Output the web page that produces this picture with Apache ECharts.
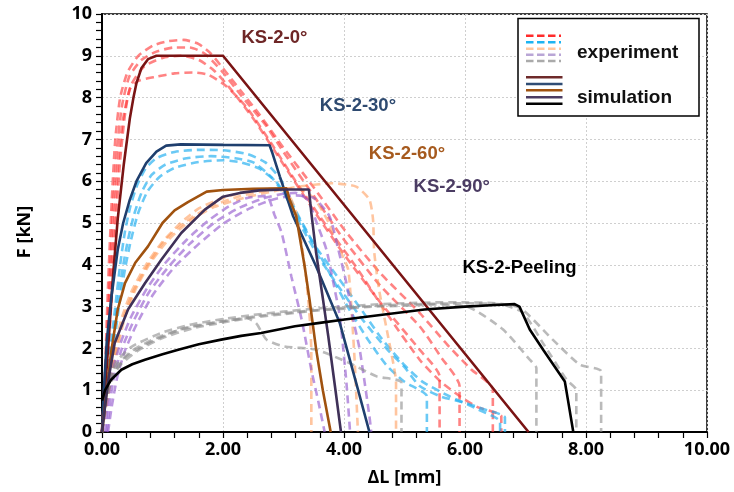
<!DOCTYPE html>
<html>
<head>
<meta charset="utf-8">
<script src="https://cdn.jsdelivr.net/npm/echarts@6/dist/echarts.min.js"></script>
<style>
  html, body { margin: 0; padding: 0; background: #fff; }
  #chart { width: 734px; height: 492px; }
</style>
</head>
<body>
<div id="chart"></div>
<script>
// Force F [kN] versus elongation ΔL [mm] for the KS-2 specimens.
// Axis ranges
const xRange = [0, 10];
const yRange = [0, 10];

// ---- KS-2-0° ----
const sim0 = [[0,0],[0.05,1.0],[0.1,2.0],[0.18,3.7],[0.26,5.1],[0.36,6.4],[0.46,7.5],[0.52,8.0],[0.57,8.35],[0.65,8.7],[0.76,8.92],[0.9,9.0],[2.0,9.0],[7.05,0]];
const exp0a = [[0,0],[0.05,1.5],[0.1,3.5],[0.16,5.5],[0.22,7.0],[0.3,8.0],[0.42,8.6],[0.6,9.0],[0.85,9.25],[1.1,9.35],[1.35,9.38],[1.6,9.28],[1.8,9.05],[2.0,8.7],[2.3,8.15],[2.6,7.6],[3.0,6.8],[3.5,5.85],[4.0,4.85],[4.6,3.8],[5.25,2.85],[5.7,2.1],[6.1,1.5],[6.46,1.02],[6.46,0]];
const exp0b = [[0,0],[0.06,1.5],[0.12,3.4],[0.18,5.3],[0.25,6.8],[0.33,7.8],[0.45,8.5],[0.65,8.9],[0.9,9.1],[1.2,9.2],[1.45,9.2],[1.7,9.05],[2.0,8.6],[2.3,8.05],[2.7,7.35],[3.0,6.7],[3.5,5.65],[4.0,4.6],[4.6,3.5],[5.25,2.53],[5.6,1.8],[5.91,1.1],[5.91,0]];
const exp0c = [[0,0],[0.07,1.4],[0.13,3.2],[0.2,5.0],[0.27,6.5],[0.35,7.5],[0.48,8.3],[0.7,8.75],[1.0,8.95],[1.3,9.0],[1.6,8.9],[1.85,8.65],[2.1,8.25],[2.5,7.5],[3.0,6.4],[3.5,5.3],[4.0,4.25],[4.6,3.1],[5.25,1.97],[5.58,1.33],[5.58,0]];
const exp0d = [[0,0],[0.08,1.3],[0.15,3.0],[0.22,4.8],[0.3,6.5],[0.38,7.6],[0.46,8.2],[0.6,8.4],[0.9,8.5],[1.2,8.58],[1.5,8.6],[1.75,8.55],[2.05,8.28],[2.4,7.75],[2.8,6.9],[3.2,6.0],[3.7,4.95],[4.2,3.95],[4.7,2.85],[5.25,1.73],[5.6,1.2],[5.91,0.86],[6.2,0.6],[6.6,0.38],[6.6,0]];

// ---- KS-2-30° ----
const sim30 = [[0,0],[0.03,1.0],[0.08,2.2],[0.15,3.17],[0.26,4.36],[0.35,5.0],[0.46,5.56],[0.57,6.0],[0.73,6.43],[0.9,6.71],[1.06,6.85],[1.3,6.88],[2.0,6.87],[2.77,6.86],[2.81,6.7],[2.94,6.11],[3.16,5.16],[3.54,3.96],[3.93,2.61],[4.2,1.18],[4.42,0]];
const exp30a = [[0,0],[0.07,1.0],[0.14,2.0],[0.22,3.0],[0.3,4.0],[0.38,4.8],[0.47,5.4],[0.58,5.9],[0.72,6.3],[0.9,6.55],[1.2,6.7],[1.6,6.75],[2.0,6.74],[2.4,6.65],[2.7,6.45],[2.95,6.05],[3.2,5.3],[3.5,4.5],[3.8,3.7],[4.1,2.9],[4.4,2.2],[4.7,1.6],[5.0,1.2],[5.37,0.85],[5.37,0]];
const exp30b = [[0,0],[0.08,1.0],[0.16,2.0],[0.25,3.0],[0.34,3.9],[0.43,4.6],[0.53,5.2],[0.66,5.75],[0.82,6.15],[1.05,6.4],[1.4,6.55],[1.8,6.6],[2.2,6.55],[2.5,6.45],[2.8,6.1],[3.05,5.6],[3.3,4.9],[3.6,4.15],[3.9,3.5],[4.3,2.7],[4.7,2.0],[5.0,1.55],[5.25,1.1],[5.6,0.85],[6.0,0.7],[6.3,0.55],[6.66,0.35],[6.66,0]];
const exp30c = [[0,0],[0.1,1.0],[0.19,2.0],[0.28,3.0],[0.38,3.9],[0.48,4.6],[0.6,5.25],[0.75,5.75],[0.95,6.1],[1.2,6.32],[1.6,6.46],[2.0,6.5],[2.3,6.45],[2.6,6.3],[2.9,5.95],[3.2,5.25],[3.5,4.5],[3.9,3.7],[4.3,2.9],[4.64,2.2],[5.0,1.6],[5.3,1.2],[5.75,0.85],[6.2,0.55],[6.58,0.25],[6.58,0]];

// ---- KS-2-60° ----
const sim60 = [[0,0],[0.08,1.0],[0.15,1.9],[0.26,2.93],[0.38,3.56],[0.55,4.05],[0.76,4.44],[1.0,5.0],[1.2,5.3],[1.42,5.5],[1.73,5.75],[2.0,5.79],[2.5,5.82],[3.05,5.83],[3.1,5.56],[3.21,5.16],[3.35,3.96],[3.43,3.17],[3.54,1.97],[3.65,1.0],[3.78,0]];
const exp60a = [[0,0],[0.1,1.0],[0.2,1.9],[0.32,2.7],[0.5,3.4],[0.75,4.05],[1.0,4.55],[1.3,5.0],[1.6,5.35],[2.0,5.6],[2.4,5.75],[2.8,5.82],[3.05,5.75],[3.2,5.3],[3.3,4.5],[3.38,3.6],[3.44,2.6],[3.46,1.9],[3.46,0]];
const exp60b = [[0,0],[0.12,1.0],[0.24,1.9],[0.37,2.7],[0.55,3.4],[0.8,4.05],[1.1,4.6],[1.45,5.05],[1.85,5.38],[2.4,5.62],[2.9,5.78],[3.3,5.88],[3.8,5.95],[4.2,5.87],[4.42,5.56],[4.48,5.08],[4.5,4.3],[4.58,3.4],[4.7,2.5],[4.82,1.6],[4.86,1.2],[4.86,0]];
const exp60c = [[0,0],[0.11,1.0],[0.22,1.9],[0.35,2.7],[0.53,3.4],[0.78,4.05],[1.05,4.6],[1.4,5.05],[1.8,5.4],[2.3,5.65],[2.8,5.8],[3.2,5.83],[3.5,5.6],[3.75,5.0],[3.95,4.3],[4.07,3.88],[4.13,2.8],[4.18,1.6],[4.23,0]];

// ---- KS-2-90° ----
const sim90 = [[0,0],[0.05,0.6],[0.1,1.2],[0.21,2.13],[0.43,2.93],[0.71,3.56],[0.98,4.12],[1.31,4.76],[1.7,5.32],[2.0,5.63],[2.28,5.72],[2.6,5.78],[3.0,5.8],[3.42,5.8],[3.46,5.24],[3.54,4.28],[3.65,3.2],[3.74,2.29],[3.85,1.1],[3.95,0]];
const exp90a = [[0.05,0],[0.1,0.8],[0.18,1.5],[0.3,2.1],[0.48,2.75],[0.75,3.45],[1.05,4.05],[1.4,4.6],[1.75,5.05],[2.1,5.4],[2.4,5.6],[2.72,5.65],[2.85,5.2],[2.97,4.76],[3.13,3.72],[3.3,2.69],[3.46,1.49],[3.58,0.7],[3.68,0]];
const exp90b = [[0.08,0],[0.13,0.7],[0.21,1.4],[0.33,2.0],[0.52,2.65],[0.78,3.35],[1.1,3.95],[1.45,4.5],[1.85,5.0],[2.25,5.35],[2.65,5.58],[3.0,5.7],[3.2,5.72],[3.4,5.55],[3.55,5.0],[3.71,4.36],[3.82,3.6],[3.93,2.77],[4.04,1.18],[4.1,0]];
const exp90c = [[0.1,0],[0.16,0.6],[0.25,1.3],[0.38,1.95],[0.58,2.6],[0.85,3.3],[1.2,3.95],[1.6,4.5],[2.0,4.98],[2.4,5.32],[2.8,5.55],[3.2,5.66],[3.5,5.6],[3.76,5.16],[3.9,4.4],[4.04,3.56],[4.15,2.7],[4.26,1.97],[4.42,0.38],[4.45,0]];

// ---- KS-2-Peeling ----
const simPeel = [[0,0.75],[0.05,1.0],[0.15,1.25],[0.32,1.49],[0.5,1.62],[0.71,1.73],[1.0,1.86],[1.26,1.97],[1.6,2.1],[1.97,2.21],[2.3,2.3],[2.63,2.37],[3.19,2.53],[3.6,2.61],[4.01,2.69],[4.6,2.8],[5.33,2.93],[6.0,3.0],[6.5,3.04],[6.82,3.06],[6.9,3.0],[7.07,2.45],[7.3,1.95],[7.65,1.21],[7.7,0.78],[7.79,0]];
const expPa = [[0,0],[0.05,0.6],[0.12,1.2],[0.25,1.6],[0.5,1.95],[0.9,2.25],[1.4,2.5],[2.0,2.65],[2.4,2.72],[2.55,2.6],[2.72,2.21],[3.0,2.05],[3.54,1.97],[4.09,1.65],[4.54,1.33],[4.95,1.18],[4.95,0]];
const expPb = [[0,0],[0.06,0.7],[0.15,1.2],[0.3,1.6],[0.6,1.95],[1.0,2.25],[1.5,2.48],[2.0,2.62],[2.5,2.74],[3.0,2.82],[3.5,2.9],[4.0,2.95],[4.5,3.0],[5.0,3.02],[5.5,3.05],[6.07,2.98],[6.63,2.45],[7.07,1.73],[7.18,1.53],[7.18,0]];
const expPc = [[0,0],[0.05,0.8],[0.12,1.3],[0.25,1.7],[0.5,2.05],[1.0,2.38],[1.5,2.58],[2.0,2.7],[2.5,2.8],[3.0,2.88],[3.5,2.95],[4.0,3.0],[4.5,3.05],[5.0,3.08],[5.5,3.1],[6.0,3.1],[6.5,3.08],[6.91,2.97],[7.45,2.21],[7.9,1.61],[8.25,1.45],[8.25,0]];
const expPd = [[0,0],[0.08,0.9],[0.2,1.4],[0.4,1.8],[0.8,2.15],[1.3,2.45],[2.0,2.65],[2.6,2.78],[3.2,2.87],[4.0,2.97],[5.0,3.05],[6.0,3.08],[6.6,3.05],[6.96,2.85],[7.3,2.1],[7.68,1.25],[7.84,1.0],[7.84,0]];

// Curve annotations (text, anchor in data units)
const labelNames = ['KS-2-0°', 'KS-2-30°', 'KS-2-60°', 'KS-2-90°', 'KS-2-Peeling'];
const labelX = [2.85, 4.23, 5.04, 5.78, 6.90];
const labelY = [9.43, 7.80, 6.65, 5.87, 3.93];

// Colours per specimen group
const simColors = ['#7a1414', '#1f3f6e', '#a0520f', '#3f3158', '#000000'];
const expColors = ['rgba(255,55,55,0.62)', 'rgba(35,175,240,0.68)', 'rgba(255,150,80,0.55)', 'rgba(145,85,205,0.62)', 'rgba(140,140,140,0.6)'];
const labelColors = ['#6e2626', '#2e4a70', '#a65a1e', '#4b3c63', '#000000'];

const simSets = [sim0, sim30, sim60, sim90, simPeel];
const expSets = [[exp0a, exp0b, exp0c, exp0d], [exp30a, exp30b, exp30c], [exp60a, exp60b, exp60c], [exp90a, exp90b, exp90c], [expPa, expPb, expPc, expPd]];

const series = [];
expSets.forEach((group, g) => {
  group.forEach((pts) => {
    series.push({
      name: 'experiment',
      type: 'line',
      data: pts,
      showSymbol: false,
      smooth: 0.2,
      z: 2,
      lineStyle: { color: expColors[g], width: 2.6, type: [8, 5] },
      silent: true
    });
  });
});
simSets.forEach((pts, g) => {
  series.push({
    name: 'simulation',
    type: 'line',
    data: pts,
    showSymbol: false,
    smooth: false,
    z: 3,
    lineStyle: { color: simColors[g], width: 2.6 },
    silent: true,
    markPoint: {
      symbol: 'rect',
      symbolSize: 0,
      silent: true,
      data: [{ coord: [labelX[g], labelY[g]], value: labelNames[g] }],
      label: {
        show: true,
        position: 'inside',
        formatter: labelNames[g],
        color: labelColors[g],
        fontSize: 18.5,
        fontWeight: 'bold',
        fontFamily: 'Liberation Sans, Arial, sans-serif'
      }
    }
  });
});

// Legend box: stacked line samples for each group
const legendX0 = 526, legendX1 = 561;
const expSwatchY = [35.7, 42.3, 48.7, 54.7, 61];
const simSwatchY = [77.3, 84, 90.3, 97.3, 103.7];
const legendSwatchColors = ['#ff2b2b', '#1db4f2', '#ffc8a0', '#b9a6d6', '#aaaaaa'];
const legendSimColors = ['#6e2a2a', '#2f4c74', '#a0520f', '#4b3c63', '#000000'];
const graphics = [{
  type: 'rect',
  shape: { x: 518, y: 18.5, width: 181, height: 97.5 },
  style: { fill: '#fff', stroke: '#000', lineWidth: 1.5 },
  z: 100
}];
expSwatchY.forEach((y, i) => {
  graphics.push({
    type: 'line', z: 101,
    shape: { x1: legendX0, y1: y, x2: legendX1, y2: y },
    style: { stroke: legendSwatchColors[i], lineWidth: 2.5, lineDash: [7.5, 3.5] }
  });
});
simSwatchY.forEach((y, i) => {
  graphics.push({
    type: 'line', z: 101,
    shape: { x1: legendX0, y1: y, x2: legendX1 + 1.5, y2: y },
    style: { stroke: legendSimColors[i], lineWidth: 2.5 }
  });
});
graphics.push({
  type: 'text', z: 101, left: 577, top: 43,
  style: { text: 'experiment', fill: '#111', font: 'bold 19px "Liberation Sans", Arial, sans-serif' }
});
graphics.push({
  type: 'text', z: 101, left: 577, top: 88,
  style: { text: 'simulation', fill: '#111', font: 'bold 19px "Liberation Sans", Arial, sans-serif' }
});

const tickFont = { fontFamily: 'Open Sans', fontWeight: 'bold', fontSize: 18, color: '#000' };

const chart = echarts.init(document.getElementById('chart'), null, { renderer: 'canvas' });
chart.setOption({
  animation: false,
  backgroundColor: '#fff',
  grid: { left: 102, right: 27, top: 14, bottom: 59.5, show: true, borderColor: '#000', borderWidth: 1.5, backgroundColor: 'transparent' },
  xAxis: {
    type: 'value', min: xRange[0], max: xRange[1], interval: 2,
    name: 'ΔL [mm]', nameLocation: 'middle', nameGap: 37,
    nameTextStyle: { fontFamily: 'Open Sans', fontWeight: 'bold', fontSize: 18, color: '#000' },
    axisLine: { show: true, onZero: false, lineStyle: { color: '#000', width: 2 } },
    axisTick: { show: true, length: 6, lineStyle: { color: '#000', width: 1.2 } },
    minorTick: { show: true, splitNumber: 5, length: 6, lineStyle: { color: '#000', width: 1.2 } },
    axisLabel: Object.assign({ margin: 9, formatter: v => v.toFixed(2) }, tickFont),
    splitLine: { show: true, lineStyle: { color: '#cfcfcf', width: 1, type: [2, 2] } }
  },
  yAxis: {
    type: 'value', min: yRange[0], max: yRange[1], interval: 1,
    name: 'F [kN]', nameLocation: 'middle', nameGap: 68, nameRotate: 90,
    nameTextStyle: { fontFamily: 'Open Sans', fontWeight: 'bold', fontSize: 18, color: '#000', padding: [0, 18, 0, 0] },
    axisLine: { show: true, onZero: false, lineStyle: { color: '#000', width: 2 } },
    axisTick: { show: true, length: 6, lineStyle: { color: '#000', width: 1.2 } },
    minorTick: { show: true, splitNumber: 5, length: 6, lineStyle: { color: '#000', width: 1.2 } },
    axisLabel: Object.assign({ margin: 10 }, tickFont),
    splitLine: { show: true, lineStyle: { color: '#cfcfcf', width: 1, type: [2, 2] } }
  },
  graphic: graphics,
  series: series
});
</script>
</body>
</html>
